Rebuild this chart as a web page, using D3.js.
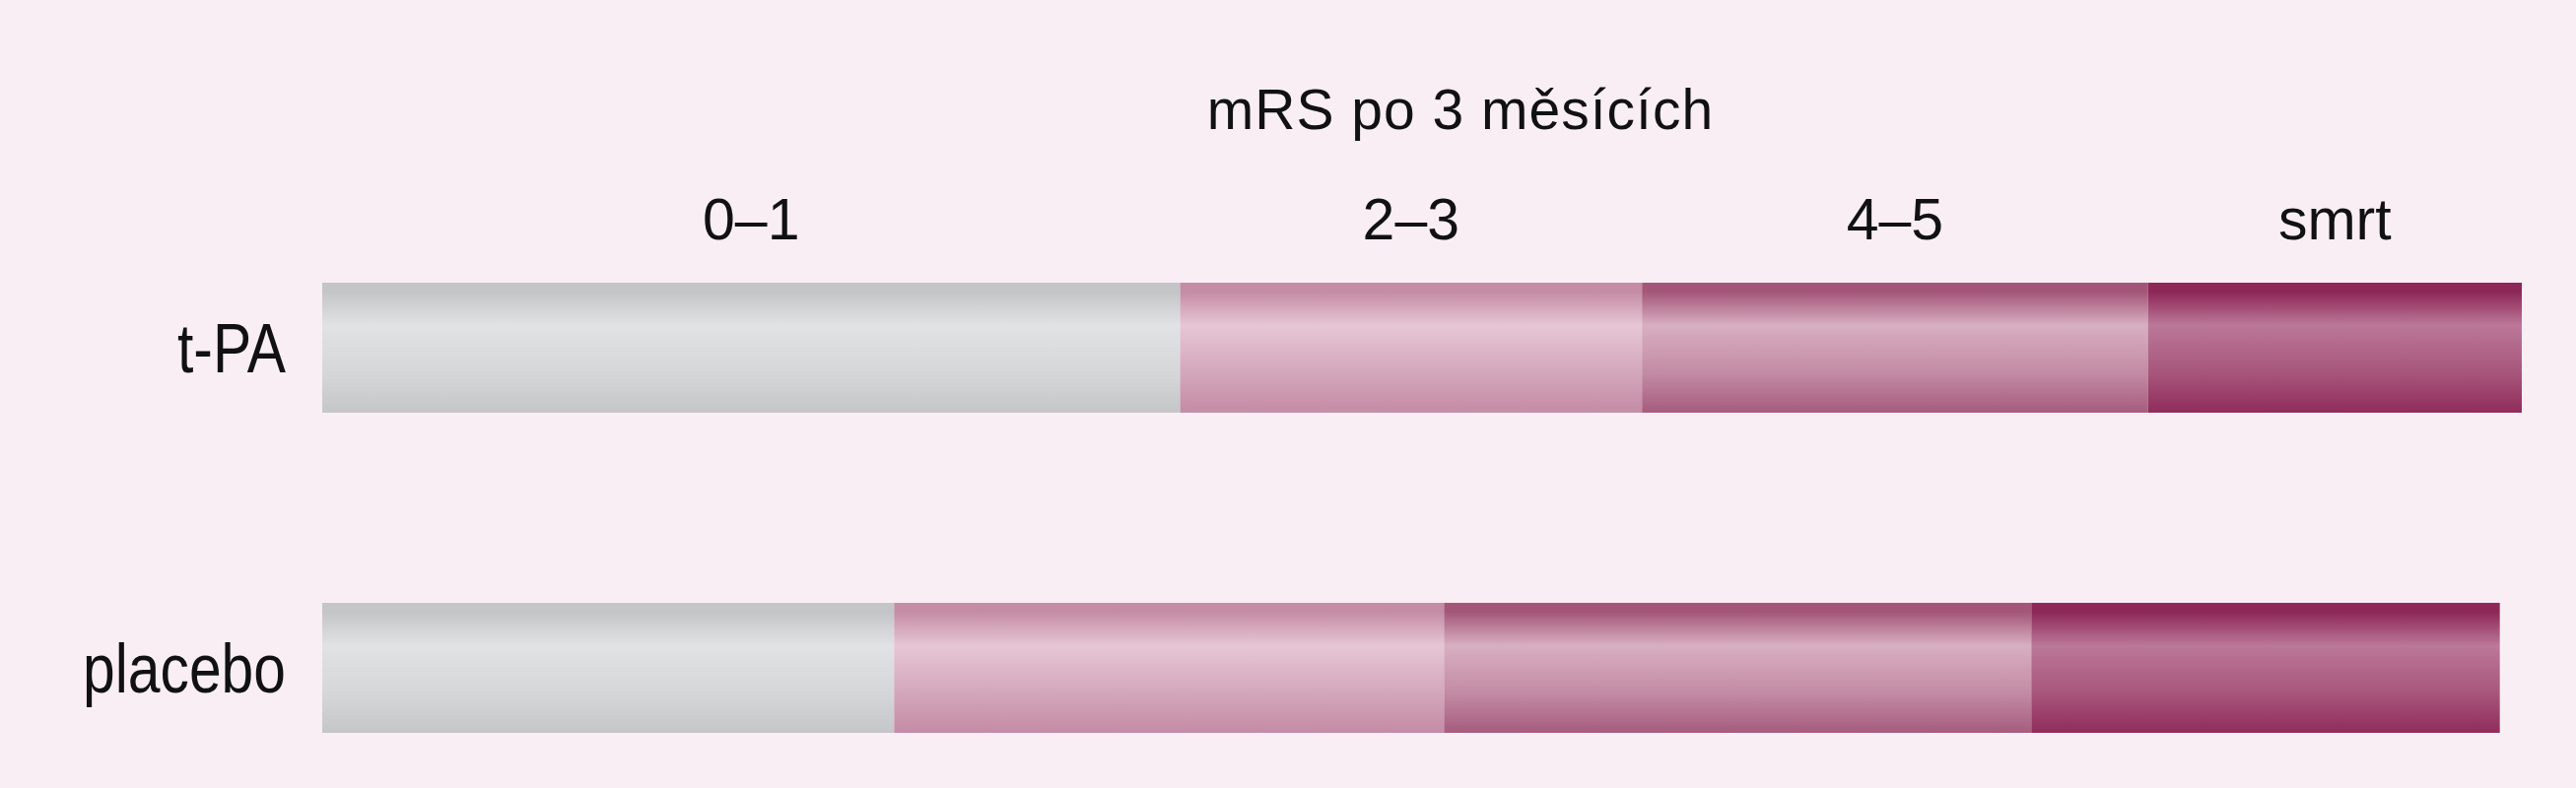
<!DOCTYPE html>
<html>
<head>
<meta charset="utf-8">
<script src="https://cdn.jsdelivr.net/npm/d3@7.9.0/dist/d3.min.js"></script>
<style>
  html, body { margin: 0; padding: 0; background: #f9eef4; }
  svg { display: block; }
  text { fill: #111; font-family: "Liberation Sans", Arial, sans-serif; }
</style>
</head>
<body>
<svg id="chart" width="2614" height="800"></svg>
<script>
// values (% of patients)
const groups = ['t-PA', 'placebo'];
const categories = ['0\u20131', '2\u20133', '4\u20135', 'smrt'];
const tpaValues = [39, 21, 23, 17];
const placeboValues = [26, 25, 26.7, 21.3];
const title = 'mRS po 3 m\u011bs\u00edc\u00edch';

// gradient shades per category: [edge, light, mid, bottom]
const shades = [
  ['#c4c5c7', '#e1e2e4', '#d5d6d8', '#c5c6c8'],
  ['#c48ca5', '#e6c6d5', '#d3a6bb', '#c48ba5'],
  ['#a45679', '#d8afc2', '#c28aa4', '#a65c7e'],
  ['#8d2858', '#bb7898', '#a7557b', '#902c5b']
];

const rows = groups.map((g, i) => {
  const vals = i === 0 ? tpaValues : placeboValues;
  const row = { group: g };
  categories.forEach((c, j) => { row[c] = vals[j]; });
  return row;
});

const svg = d3.select('#chart');

const x = d3.scaleLinear().domain([0, 100]).range([327, 2559]);
const y = d3.scaleBand().domain(groups).range([287, 744]).paddingInner(0.594);

const defs = svg.append('defs');
shades.forEach((s, i) => {
  const grad = defs.append('linearGradient')
    .attr('id', 'g' + i)
    .attr('x1', 0).attr('y1', 0).attr('x2', 0).attr('y2', 1);
  [[0, s[0]], [0.07, s[0]], [0.33, s[1]], [0.7, s[2]], [1, s[3]]].forEach(([o, c]) => {
    grad.append('stop').attr('offset', o).attr('stop-color', c);
  });
});

const series = d3.stack().keys(categories)(rows);

svg.append('g')
  .selectAll('g')
  .data(series)
  .join('g')
  .attr('fill', (d, i) => `url(#g${i})`)
  .selectAll('rect')
  .data(d => d)
  .join('rect')
  .attr('x', d => x(d[0]))
  .attr('y', d => y(d.data.group))
  .attr('width', d => x(d[1]) - x(d[0]))
  .attr('height', y.bandwidth());

// category labels centred over the t-PA segments
svg.append('g')
  .selectAll('text')
  .data(series)
  .join('text')
  .attr('x', d => (x(d[0][0]) + x(d[0][1])) / 2)
  .attr('y', 243)
  .attr('text-anchor', 'middle')
  .attr('font-size', 59)
  .text(d => d.key);

// group labels, narrow like the original
svg.append('g')
  .selectAll('text')
  .data(groups)
  .join('text')
  .attr('transform', d => `translate(290,${y(d) + y.bandwidth() / 2}) scale(0.84,1)`)
  .attr('dy', '0.36em')
  .attr('text-anchor', 'end')
  .attr('font-size', 70)
  .text(d => d);

svg.append('text')
  .attr('x', 1482)
  .attr('y', 131)
  .attr('text-anchor', 'middle')
  .attr('font-size', 57)
  .attr('letter-spacing', 1)
  .text(title);
</script>
</body>
</html>
